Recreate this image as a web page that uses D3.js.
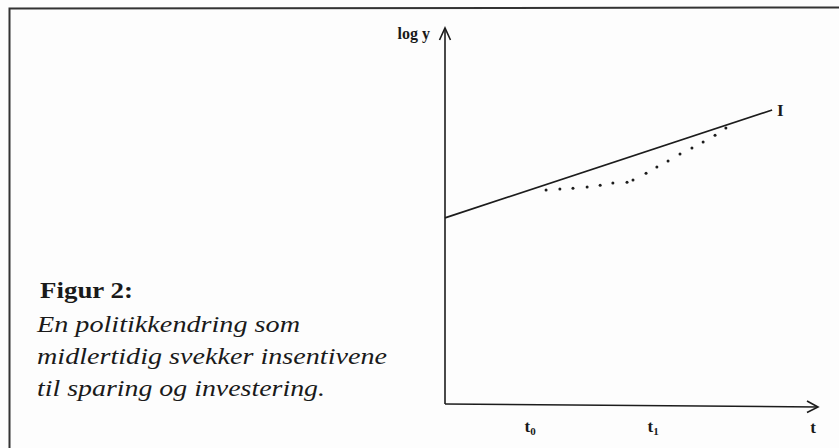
<!DOCTYPE html>
<html>
<head>
<meta charset="utf-8">
<script src="https://cdn.jsdelivr.net/npm/d3@7"></script>
<style>
  html, body { margin: 0; padding: 0; background: #fdfdfd; }
  svg { display: block; }
  .serif { font-family: "Liberation Serif", "Times New Roman", serif; fill: #1a1a1a; }
</style>
</head>
<body>
<svg id="chart" width="839" height="448"></svg>
<script>
// Time axis marks (t0, t1) and the end label
const tickTimes = [22.8, 55.8];
const tickNames = ["0", "1"];           // subscripts on "t"
const axisEnd = 100;

// Trend growth path I (log y against t)
const trendT = [0, 87.7];
const trendLogY = [49.5, 78.2];

// Temporarily weakened path after the policy change
const dipT = [27.1, 30.8, 34.3, 38.1, 41.6, 45.0, 48.8, 50.4, 53.9, 56.8, 59.8, 63.0, 66.2, 69.2, 72.4, 75.3];
const dipLogY = [56.9, 57.2, 57.4, 57.7, 58.2, 58.8, 59.0, 59.6, 61.4, 63.0, 64.6, 66.5, 68.1, 69.7, 71.5, 73.4];

// Caption text
const captionTitle = "Figur 2:";
const captionLines = ["En politikkendring som", "midlertidig svekker insentivene", "til sparing og investering."];

const svg = d3.select("#chart");
const ink = "#1c1c1c";

// Frame around the figure (top and left edges)
svg.append("path")
  .attr("d", "M9.5,448 L9.5,8.5 L839,7.5")
  .attr("fill", "none").attr("stroke", "#333").attr("stroke-width", 2);

const x = d3.scaleLinear().domain([0, axisEnd]).range([445, 818]);
const y = d3.scaleLinear().domain([0, 100]).range([404, 28]);

// Axes
const g = svg.append("g");
g.append("line")
  .attr("x1", x(0)).attr("y1", y(0)).attr("x2", x(0)).attr("y2", y(100))
  .attr("stroke", ink).attr("stroke-width", 1.6);
g.append("line")
  .attr("x1", x(0)).attr("y1", y(0)).attr("x2", x(axisEnd)).attr("y2", y(0) + 3)
  .attr("stroke", ink).attr("stroke-width", 1.6);

// Open arrowheads
g.append("path")
  .attr("d", `M${x(0) - 5.5},${y(100) + 12} L${x(0)},${y(100)} L${x(0) + 5.5},${y(100) + 12}`)
  .attr("fill", "none").attr("stroke", ink).attr("stroke-width", 1.6);
g.append("path")
  .attr("d", `M${x(axisEnd) - 11},${y(0) - 3} L${x(axisEnd)},${y(0) + 3} L${x(axisEnd) - 11},${y(0) + 8.5}`)
  .attr("fill", "none").attr("stroke", ink).attr("stroke-width", 1.6);

// Axis titles
svg.append("text").attr("class", "serif")
  .attr("x", x(0) - 15).attr("y", 39)
  .attr("text-anchor", "end")
  .attr("font-weight", "bold").attr("font-size", 16)
  .text("log y");

svg.append("text").attr("class", "serif")
  .attr("x", 813).attr("y", 433)
  .attr("text-anchor", "middle")
  .attr("font-weight", "bold").attr("font-size", 17)
  .text("t");

// t0 and t1 labels
const tl = svg.selectAll(".tlab").data(tickTimes).join("text")
  .attr("class", "serif tlab")
  .attr("x", d => x(d)).attr("y", 432)
  .attr("text-anchor", "middle")
  .attr("font-weight", "bold").attr("font-size", 17);
tl.append("tspan").text("t");
tl.append("tspan").attr("font-size", 11).attr("dy", 3).text((d, i) => tickNames[i]);

// Trend line I
const line = d3.line().x(d => x(d[0])).y(d => y(d[1]));
svg.append("path")
  .datum(d3.zip(trendT, trendLogY))
  .attr("d", line)
  .attr("fill", "none").attr("stroke", ink).attr("stroke-width", 1.7);

svg.append("text").attr("class", "serif")
  .attr("x", x(trendT[1]) + 5).attr("y", y(trendLogY[1]) + 6)
  .attr("font-weight", "bold").attr("font-size", 17)
  .text("I");

// Dotted path
svg.selectAll(".dip").data(d3.zip(dipT, dipLogY)).join("circle")
  .attr("class", "dip")
  .attr("cx", d => x(d[0])).attr("cy", d => y(d[1]))
  .attr("r", 1.5)
  .attr("fill", ink);

// Caption
svg.append("text").attr("class", "serif")
  .attr("x", 40).attr("y", 298)
  .attr("font-weight", "bold").attr("font-size", 24)
  .attr("textLength", 93)
  .attr("lengthAdjust", "spacingAndGlyphs")
  .text(captionTitle);

const capX = 37;
const capWidths = [263, 350, 288];
svg.selectAll(".cap").data(captionLines).join("text")
  .attr("class", "serif cap")
  .attr("x", capX).attr("y", (d, i) => 332 + i * 32)
  .attr("font-style", "italic").attr("font-size", 24)
  .attr("textLength", (d, i) => capWidths[i])
  .attr("lengthAdjust", "spacingAndGlyphs")
  .text(d => d);
</script>
</body>
</html>
